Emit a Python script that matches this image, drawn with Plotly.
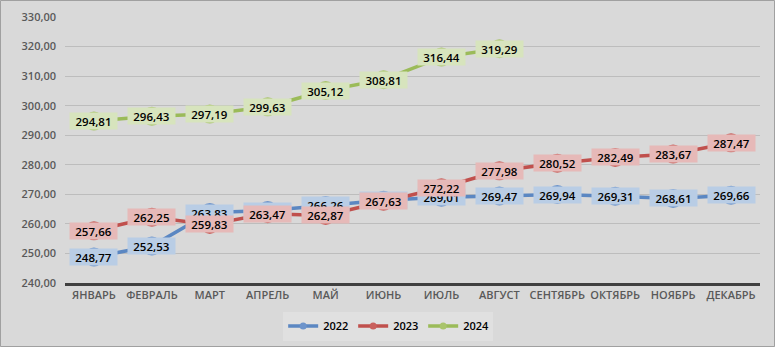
import plotly.graph_objects as go

months = ["ЯНВАРЬ", "ФЕВРАЛЬ", "МАРТ", "АПРЕЛЬ", "МАЙ", "ИЮНЬ", "ИЮЛЬ",
          "АВГУСТ", "СЕНТЯБРЬ", "ОКТЯБРЬ", "НОЯБРЬ", "ДЕКАБРЬ"]
v2022 = [248.77, 252.53, 263.83, 264.50, 266.26, 268.00, 269.01,
         269.47, 269.94, 269.31, 268.61, 269.66]
v2023 = [257.66, 262.25, 259.83, 263.47, 262.87, 267.63, 272.22,
         277.98, 280.52, 282.49, 283.67, 287.47]
v2024 = [294.81, 296.43, 297.19, 299.63, 305.12, 308.81, 316.44, 319.29]
series_names = ["2022", "2023", "2024"]
yticks = [240, 250, 260, 270, 280, 290, 300, 310, 320, 330]

line_colors = ["#5b87c2", "#c0504d", "#9bbb59"]
marker_colors = ["#6d94cb", "#c9605d", "#a9c46c"]
box_colors = ["#b9cde5", "#e6b9b8", "#d7e4bd"]

W, H = 775, 347
ml, mr, mt, mb = 65, 15, 17, 64

fig = go.Figure()
all_vals = [v2022, v2023, v2024]
for name, vals, lc, mc in zip(series_names, all_vals, line_colors, marker_colors):
    fig.add_trace(go.Scatter(
        x=months[:len(vals)], y=vals, name=name, mode="lines+markers",
        line=dict(color=lc, width=3.5),
        marker=dict(color=mc, size=19, line=dict(width=0)),
        showlegend=False,
    ))
# legend entries with small symbols
for name, lc, mc in zip(series_names, line_colors, marker_colors):
    fig.add_trace(go.Scatter(
        x=[None], y=[None], name=name, mode="lines+markers",
        line=dict(color=lc, width=3.5),
        marker=dict(color=mc, size=7),
    ))

def fmt(v):
    return f"{v:.2f}".replace(".", ",")

annotations = []
for vals, bc in zip(all_vals, box_colors):
    for m, v in zip(months, vals):
        annotations.append(dict(
            x=m, y=v, xref="x", yref="y", text=fmt(v), showarrow=False,
            bgcolor=bc, borderpad=1, width=45, height=14,
            font=dict(family="Open Sans", size=11.5, color="#000000", weight=600),
        ))

pw = W - ml - mr
ph = H - mt - mb
fig.update_layout(
    width=W, height=H,
    margin=dict(l=ml, r=mr, t=mt, b=mb, autoexpand=False),
    paper_bgcolor="#d9d9d9", plot_bgcolor="#d9d9d9",
    separators=", ",
    font=dict(family="Open Sans", size=11, color="#595959"),
    showlegend=True,
    legend=dict(orientation="h", x=0.465, xanchor="center", y=-0.162, yanchor="middle",
                bgcolor="#e0e0e0", font=dict(size=11, color="#000000", family="Open Sans", weight=600),
                entrywidth=25, tracegroupgap=0),
    xaxis=dict(type="category", categoryarray=months, range=[-0.5, 11.5],
               showgrid=False,
               showline=True, linecolor="#404040", linewidth=2.5, ticks="",
               tickfont=dict(size=11, color="#595959", family="Open Sans", weight=600),
               fixedrange=True, automargin=False),
    yaxis=dict(range=[240, 330], tickvals=yticks, tickformat=".2f",
               showgrid=True, gridcolor="#bdbdbd", gridwidth=1, zeroline=False,
               showline=False, ticks="", ticklabelstandoff=8,
               tickfont=dict(size=11, color="#595959", family="Open Sans", weight=600),
               fixedrange=True, automargin=False),
    annotations=annotations,
    shapes=[dict(type="rect", xref="paper", yref="paper",
                 x0=-(ml - 0.5) / pw, x1=1 + (mr - 0.5) / pw,
                 y0=-(mb - 0.5) / ph, y1=1 + (mt - 0.5) / ph,
                 line=dict(color="#a0a0a0", width=1), layer="below")],
)
fig.write_html("out.html")
